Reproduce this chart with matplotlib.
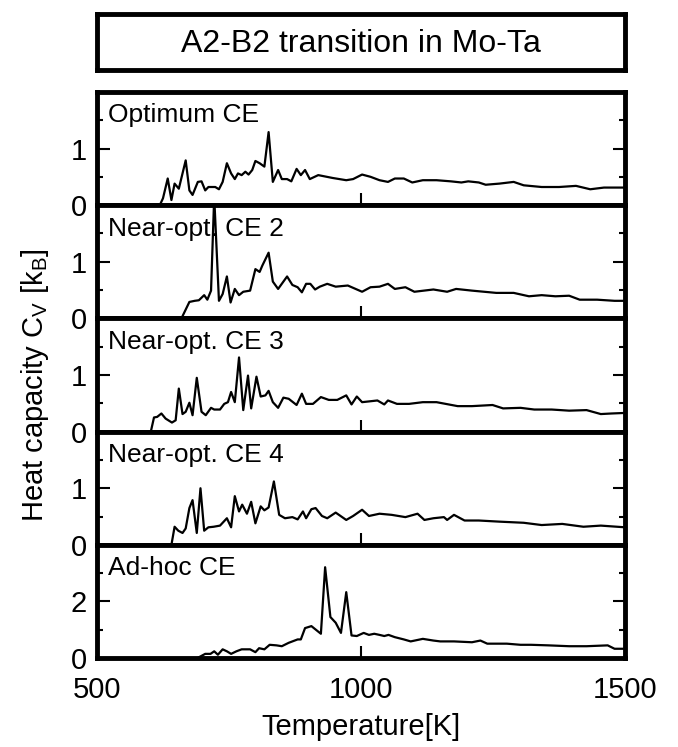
import numpy as np
import matplotlib
matplotlib.use('Agg')
import matplotlib.pyplot as plt

plt.rcParams['font.family'] = ['Liberation Sans', 'DejaVu Sans']
plt.rcParams['mathtext.fontset'] = 'custom'
plt.rcParams['mathtext.rm'] = 'Liberation Sans'
plt.rcParams['mathtext.it'] = 'Liberation Sans:italic'

title = 'A2-B2 transition in Mo-Ta'
names = ['Optimum CE', 'Near-opt. CE 2', 'Near-opt. CE 3', 'Near-opt. CE 4', 'Ad-hoc CE']

# temperatures [K] and heat capacities [k_B]
t_opt = [619, 625, 634, 641, 647, 655, 668, 675, 681, 691, 698, 705, 711, 724, 731,
         738, 746, 754, 761, 767, 774, 781, 787, 794, 800, 808, 817, 825, 833, 843,
         850, 860, 868, 878, 886, 894, 903, 919, 946, 972, 985, 1002, 1018, 1035,
         1051, 1064, 1081, 1097, 1117, 1143, 1170, 1190, 1203, 1223, 1236, 1262,
         1289, 1308, 1342, 1375, 1407, 1434, 1460, 1500]
cv_opt = [0.0, 0.12, 0.47, 0.09, 0.38, 0.29, 0.79, 0.26, 0.18, 0.41, 0.42, 0.26, 0.32,
          0.32, 0.28, 0.41, 0.74, 0.56, 0.46, 0.56, 0.53, 0.59, 0.54, 0.62, 0.78, 0.74,
          0.68, 1.29, 0.41, 0.62, 0.46, 0.46, 0.42, 0.64, 0.53, 0.62, 0.46, 0.53, 0.48,
          0.44, 0.46, 0.54, 0.50, 0.44, 0.41, 0.47, 0.47, 0.40, 0.44, 0.44, 0.42, 0.40,
          0.42, 0.40, 0.36, 0.38, 0.41, 0.35, 0.32, 0.32, 0.34, 0.28, 0.31, 0.31]

t_ce2 = [660, 675, 685, 693, 703, 709, 716, 722, 731, 738, 746, 753, 761, 769, 777,
         790, 800, 808, 813, 825, 833, 843, 860, 870, 880, 888, 896, 904, 913, 922,
         936, 952, 975, 1002, 1018, 1035, 1051, 1064, 1084, 1101, 1137, 1163, 1180,
         1210, 1256, 1289, 1318, 1342, 1368, 1394, 1414, 1447, 1480, 1500]
cv_ce2 = [0.0, 0.29, 0.31, 0.32, 0.41, 0.33, 0.49, 2.15, 0.31, 0.43, 0.74, 0.28, 0.52,
          0.41, 0.47, 0.49, 0.87, 0.82, 0.93, 1.16, 0.65, 0.52, 0.74, 0.59, 0.55, 0.46,
          0.61, 0.61, 0.51, 0.56, 0.61, 0.56, 0.58, 0.47, 0.55, 0.56, 0.61, 0.52, 0.55,
          0.47, 0.51, 0.47, 0.52, 0.49, 0.45, 0.45, 0.39, 0.41, 0.39, 0.40, 0.33, 0.33,
          0.31, 0.31]

t_ce3 = [602, 608, 614, 622, 630, 642, 649, 655, 662, 668, 675, 681, 689, 698, 706,
         716, 722, 733, 741, 748, 754, 761, 769, 777, 786, 792, 802, 810, 819, 825,
         833, 843, 853, 863, 878, 888, 896, 909, 924, 939, 955, 972, 982, 992, 1002,
         1031, 1044, 1051, 1068, 1091, 1117, 1143, 1183, 1210, 1249, 1269, 1302,
         1328, 1361, 1394, 1427, 1454, 1474, 1500]
cv_ce3 = [0.0, 0.25, 0.26, 0.32, 0.23, 0.16, 0.20, 0.76, 0.31, 0.35, 0.51, 0.29, 0.95,
          0.35, 0.29, 0.42, 0.39, 0.39, 0.49, 0.52, 0.70, 0.52, 1.31, 0.38, 0.99, 0.41,
          0.97, 0.62, 0.64, 0.72, 0.52, 0.42, 0.60, 0.58, 0.47, 0.67, 0.49, 0.49, 0.61,
          0.56, 0.56, 0.64, 0.48, 0.62, 0.52, 0.55, 0.48, 0.55, 0.49, 0.49, 0.52, 0.52,
          0.45, 0.45, 0.47, 0.41, 0.42, 0.39, 0.39, 0.37, 0.38, 0.31, 0.32, 0.33]

t_ce4 = [641, 647, 654, 662, 668, 675, 681, 689, 696, 703, 711, 721, 733, 746, 754,
         761, 769, 775, 784, 792, 800, 810, 817, 825, 835, 845, 856, 870, 880, 890,
         896, 906, 914, 926, 936, 952, 972, 985, 1002, 1015, 1035, 1058, 1084, 1107,
         1120, 1137, 1157, 1163, 1176, 1196, 1223, 1262, 1308, 1342, 1381, 1421,
         1454, 1500]
cv_ce4 = [0.0, 0.32, 0.25, 0.21, 0.29, 0.65, 0.79, 0.21, 1.00, 0.25, 0.31, 0.32, 0.34,
          0.47, 0.31, 0.86, 0.59, 0.71, 0.55, 0.76, 0.38, 0.68, 0.61, 0.66, 1.12, 0.53,
          0.47, 0.49, 0.45, 0.59, 0.47, 0.63, 0.65, 0.51, 0.47, 0.57, 0.44, 0.51, 0.62,
          0.51, 0.55, 0.53, 0.49, 0.55, 0.44, 0.47, 0.49, 0.44, 0.53, 0.43, 0.43, 0.41,
          0.39, 0.35, 0.37, 0.32, 0.34, 0.31]

t_adhoc = [690, 705, 715, 722, 729, 738, 746, 754, 764, 774, 790, 800, 807, 817, 827,
           840, 850, 863, 880, 886, 894, 906, 916, 924, 932, 942, 952, 962, 972, 982,
           992, 1005, 1015, 1025, 1035, 1044, 1052, 1064, 1081, 1094, 1117, 1137,
           1150, 1176, 1210, 1226, 1239, 1276, 1302, 1322, 1355, 1394, 1427, 1467,
           1480, 1500]
cv_adhoc = [0.0, 0.15, 0.15, 0.24, 0.12, 0.31, 0.24, 0.15, 0.24, 0.31, 0.31, 0.21, 0.35,
            0.31, 0.47, 0.45, 0.42, 0.54, 0.66, 0.66, 1.06, 1.13, 0.98, 0.86, 3.21, 1.45,
            1.25, 0.89, 2.33, 0.80, 0.78, 0.89, 0.82, 0.86, 0.82, 0.78, 0.82, 0.74, 0.66,
            0.59, 0.68, 0.62, 0.59, 0.59, 0.56, 0.62, 0.51, 0.51, 0.47, 0.47, 0.45, 0.42,
            0.42, 0.45, 0.33, 0.33]

temps = [t_opt, t_ce2, t_ce3, t_ce4, t_adhoc]
cvs = [cv_opt, cv_ce2, cv_ce3, cv_ce4, cv_adhoc]
ymax = [2, 2, 2, 2, 4]

fig = plt.figure(figsize=(6.78, 7.47), dpi=100)
gs = fig.add_gridspec(5, 1, left=0.143, right=0.922, top=0.877, bottom=0.119, hspace=0)

for i in range(5):
    ax = fig.add_subplot(gs[i])
    ax.plot(temps[i], cvs[i], color='black', lw=1.6)
    ax.set_xlim(500, 1500)
    ax.set_ylim(0, ymax[i])
    step = ymax[i] / 2
    ax.set_yticks([0, step])
    ax.set_yticks([step / 2, step * 1.5], minor=True)
    ax.set_xticks([500, 1000, 1500])
    for s in ax.spines.values():
        s.set_linewidth(3.5)
    ax.tick_params(axis='y', which='both', direction='in', left=True, right=True,
                   width=1.5, labelsize=21, pad=7)
    ax.tick_params(axis='y', which='major', length=9)
    ax.tick_params(axis='y', which='minor', length=4.5)
    ax.tick_params(axis='x', direction='in', length=9, width=1.5, labelsize=21, pad=13,
                   top=False)
    if i < 4:
        ax.tick_params(axis='x', labelbottom=False)
    ax.text(0.02, 0.73, names[i], transform=ax.transAxes, fontsize=19, va='baseline')

# title box
tax = fig.add_axes([0.143, 1 - 70 / 747, 0.779, 56 / 747])
tax.set_xticks([])
tax.set_yticks([])
for s in tax.spines.values():
    s.set_linewidth(3.5)
tax.text(0.5, 0.47, title, ha='center', va='center', fontsize=23, transform=tax.transAxes)

fig.text(35 / 678, 0.485, 'Heat capacity C$_\\mathrm{V}$ [k$_\\mathrm{B}$]', rotation=90,
         ha='center', va='center', fontsize=21)
fig.text(361 / 678, 1 - 727 / 747, 'Temperature[K]', ha='center', va='center', fontsize=21)

plt.savefig('out.png', dpi=100)
